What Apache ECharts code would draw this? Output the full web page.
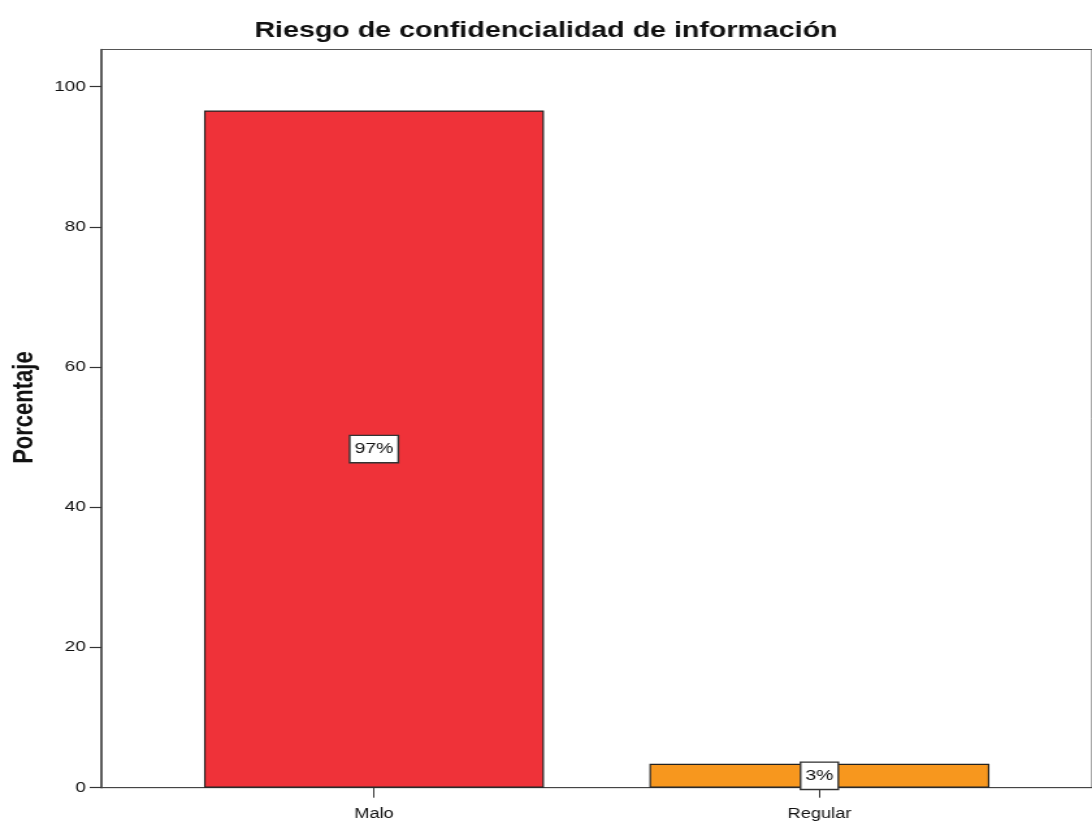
<!DOCTYPE html>
<html>
<head>
<meta charset="utf-8">
<script src="https://cdn.jsdelivr.net/npm/echarts@6/dist/echarts.min.js"></script>
<style>
  html, body { margin: 0; padding: 0; background: #fff; overflow: hidden; }
  /* the chart is laid out at 840px and widened to 1092px, like the stretched original export */
  #chart { width: 840px; height: 823px; transform: scaleX(1.3); transform-origin: 0 0; }
</style>
</head>
<body>
<div id="chart"></div>
<script>
// Chart data
const titleText = 'Riesgo de confidencialidad de información';
const yAxisName = 'Porcentaje';
const categories = ['Malo', 'Regular'];
const percentages = [96.6, 3.4];
const barColors = ['#EF3239', '#F7971E'];
const yTicks = [0, 20, 40, 60, 80, 100];

const FONT = '"Liberation Sans", Arial, sans-serif';
const chart = echarts.init(document.getElementById('chart'));

const catIndex = categories.map((c, i) => i);

chart.setOption({
  animation: false,
  backgroundColor: '#fff',
  title: {
    text: titleText,
    left: 'center',
    top: 15,
    textStyle: { fontFamily: FONT, fontSize: 22, fontWeight: 'bold', color: '#111' }
  },
  grid: {
    left: 75.8,
    top: 49.5,
    width: 772.8,
    height: 738.2,
    show: true,
    borderColor: '#555',
    borderWidth: 1,
    backgroundColor: '#fff'
  },
  xAxis: {
    type: 'value',
    min: -0.612,
    max: 1.612,
    axisLine: { show: true, onZero: false, lineStyle: { color: '#444', width: 1 } },
    axisTick: { show: true, length: 10, customValues: catIndex, lineStyle: { color: '#333' } },
    axisLabel: {
      customValues: catIndex,
      formatter: v => categories[Math.round(v)],
      margin: 19,
      fontFamily: FONT,
      fontSize: 14,
      color: '#111'
    },
    splitLine: { show: false }
  },
  yAxis: {
    type: 'value',
    min: 0,
    max: 105.3,
    name: yAxisName,
    nameLocation: 'middle',
    nameGap: 48,
    nameTextStyle: { fontFamily: FONT, fontSize: 22, fontWeight: 'bold', color: '#111', padding: [0, 0, 0, 22] },
    axisLine: { show: true, onZero: false, lineStyle: { color: '#444', width: 1.5 } },
    axisTick: { show: true, length: 9, customValues: yTicks, lineStyle: { color: '#333', width: 1.2 } },
    axisLabel: {
      customValues: yTicks,
      margin: 12,
      fontFamily: FONT,
      fontSize: 14.5,
      color: '#111'
    },
    splitLine: { show: false }
  },
  series: [{
    type: 'bar',
    barWidth: 261.5,
    data: catIndex.map(i => ({
      value: [i, percentages[i]],
      itemStyle: { color: barColors[i] }
    })),
    itemStyle: { borderColor: '#222', borderWidth: 1.2 },
    label: {
      show: true,
      position: 'inside',
      formatter: p => Math.round(p.value[1]) + '%',
      fontFamily: FONT,
      fontSize: 15,
      color: '#111',
      backgroundColor: '#fff',
      borderColor: '#333',
      borderWidth: 1.4,
      padding: [6, 3, 5, 3]
    }
  }]
});
</script>
</body>
</html>
